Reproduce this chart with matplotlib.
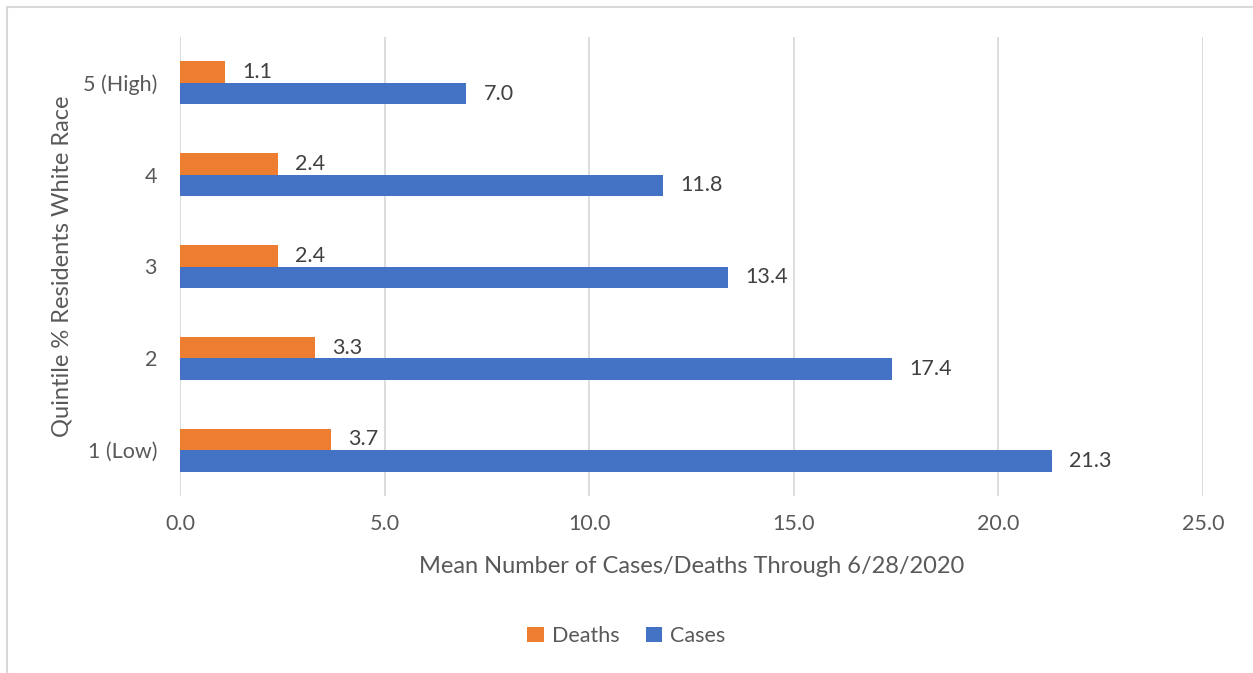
import numpy as np
import matplotlib
matplotlib.use("Agg")
import matplotlib.pyplot as plt
from matplotlib.patches import Rectangle

plt.rcParams['font.family'] = ['Lato', 'DejaVu Sans']

quintiles = ["1 (Low)", "2", "3", "4", "5 (High)"]
deaths = [3.7, 3.3, 2.4, 2.4, 1.1]
cases = [21.3, 17.4, 13.4, 11.8, 7.0]

orange = "#ED7D31"
blue = "#4472C4"
text_gray = "#595959"
grid_gray = "#D9D9D9"

fig = plt.figure(figsize=(12.53, 6.73), dpi=100)
ax = fig.add_axes([180 / 1253, 1 - 496 / 673, (1203 - 180) / 1253, (496 - 37) / 673])

y = np.arange(len(quintiles))
h = 0.234
b1 = ax.barh(y + h / 2, deaths, height=h, color=orange, label="Deaths", zorder=3)
b2 = ax.barh(y - h / 2, cases, height=h, color=blue, label="Cases", zorder=3)

for bars, vals in ((b1, deaths), (b2, cases)):
    for bar, v in zip(bars, vals):
        ax.annotate(f"{v:.1f}", (v, bar.get_y() + bar.get_height() / 2),
                    xytext=(17, 0), textcoords="offset pixels",
                    ha="left", va="center", fontsize=15.5, color="#404040")

ax.set_xlim(0, 25)
ax.set_ylim(-0.5, 4.5)
ax.set_xticks(np.arange(0, 26, 5))
ax.set_xticklabels([f"{t:.1f}" for t in np.arange(0, 26, 5)])
ax.set_yticks(y)
ax.set_yticklabels(quintiles)
ax.tick_params(length=0, labelsize=15.5, labelcolor=text_gray)
ax.tick_params(axis="x", pad=13)
ax.tick_params(axis="y", pad=16.5)
ax.grid(axis="x", color=grid_gray, linewidth=1.3, zorder=0)
for s in ax.spines.values():
    s.set_visible(False)

ax.set_xlabel("Mean Number of Cases/Deaths Through 6/28/2020", fontsize=17,
              color=text_gray, labelpad=16)
ax.set_ylabel("Quintile % Residents White Race", fontsize=17, color=text_gray, labelpad=7)

fig.legend(handles=[b1, b2], loc="center", bbox_to_anchor=(0.5, 1 - 636 / 673), ncol=2,
           frameon=False, fontsize=15.5, labelcolor=text_gray, handlelength=0.75,
           handleheight=0.75, handletextpad=0.4, columnspacing=1.2)

# outer chart frame
fig.patches.append(Rectangle((7 / 1253, -0.1), 1.2, 1 - 7 / 673 + 0.1,
                             transform=fig.transFigure, fill=False,
                             edgecolor="#D9D9D9", linewidth=1.5))

fig.savefig("out.png", dpi=100)
